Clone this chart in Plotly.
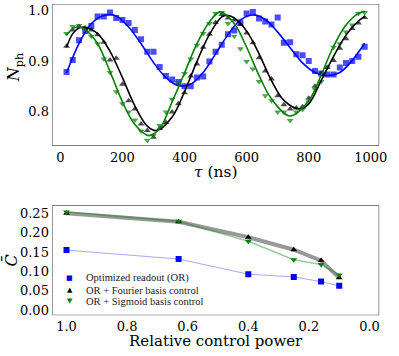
import plotly.graph_objects as go

# ---- top panel: photon number vs delay ----
tau = list(range(20, 1000, 20))

n_readout = [0.879, 0.903, 0.942, 0.960, 0.970, 0.989, 0.989, 0.997, 0.986, 0.982,
             0.976, 0.962, 0.944, 0.919, 0.919, 0.889, 0.871, 0.864, 0.859, 0.851,
             0.851, 0.868, 0.870, 0.900, 0.919, 0.933, 0.954, 0.961, 0.977, 0.995,
             0.998, 0.985, 0.979, 0.973, 0.987, 0.937, 0.938, 0.914, 0.912, 0.901,
             0.881, 0.876, 0.874, 0.874, 0.888, 0.897, 0.901, 0.909, 0.929]
n_fourier = [0.930, 0.962, 0.969, 0.966, 0.962, 0.953, 0.938, 0.903, 0.906, 0.855,
             0.822, 0.806, 0.776, 0.763, 0.750, 0.767, 0.779, 0.800, 0.816, 0.838,
             0.871, 0.895, 0.928, 0.954, 0.977, 0.993, 0.986, 0.982, 0.973, 0.956,
             0.937, 0.907, 0.881, 0.865, 0.832, 0.814, 0.806, 0.808, 0.810, 0.827,
             0.851, 0.876, 0.888, 0.902, 0.926, 0.945, 0.965, 0.976, 0.987]
n_sigmoid = [0.955, 0.969, 0.971, 0.966, 0.950, 0.935, 0.905, 0.878, 0.840, 0.816,
             0.800, 0.784, 0.762, 0.744, 0.754, 0.773, 0.800, 0.825, 0.858, 0.876,
             0.905, 0.932, 0.955, 0.975, 0.995, 0.997, 0.975, 0.950, 0.925, 0.900,
             0.885, 0.860, 0.832, 0.822, 0.800, 0.800, 0.783, 0.800, 0.805, 0.820,
             0.845, 0.860, 0.889, 0.928, 0.935, 0.958, 0.972, 0.995, 0.997]

# fitted curves (key points)
fit_tau_b = [20, 60, 100, 140, 180, 220, 260, 300, 340, 380, 420, 460, 500, 540,
             580, 620, 660, 700, 740, 780, 820, 860, 900, 940, 980]
fit_b = [0.877, 0.935, 0.975, 0.991, 0.990, 0.968, 0.935, 0.898, 0.868, 0.852,
         0.855, 0.878, 0.915, 0.953, 0.982, 0.992, 0.983, 0.958, 0.927, 0.897,
         0.878, 0.872, 0.878, 0.902, 0.936]
fit_tau_k = [20, 40, 60, 80, 120, 160, 200, 240, 280, 310, 360, 400, 440, 480,
             520, 540, 560, 600, 640, 680, 720, 770, 800, 840, 880, 920, 960, 980]
fit_k = [0.928, 0.955, 0.966, 0.967, 0.955, 0.920, 0.868, 0.812, 0.772, 0.763,
         0.790, 0.840, 0.900, 0.953, 0.988, 0.991, 0.986, 0.960, 0.915, 0.862,
         0.823, 0.806, 0.816, 0.862, 0.910, 0.952, 0.980, 0.989]
fit_tau_g = [20, 40, 60, 80, 120, 160, 200, 240, 285, 320, 360, 400, 440, 480,
             515, 560, 600, 640, 680, 740, 800, 840, 880, 920, 960, 980]
fit_g = [0.952, 0.965, 0.968, 0.963, 0.935, 0.880, 0.820, 0.775, 0.753, 0.767,
         0.820, 0.877, 0.935, 0.978, 0.998, 0.975, 0.928, 0.872, 0.826, 0.792,
         0.822, 0.873, 0.930, 0.972, 0.995, 0.999]

# ---- bottom panel: cost vs relative control power ----
power = [1.0, 0.63, 0.4, 0.25, 0.16, 0.1]
c_readout = [0.155, 0.132, 0.093, 0.086, 0.074, 0.063]
c_fourier = [0.250, 0.228, 0.188, 0.156, 0.128, 0.084]
c_sigmoid = [0.253, 0.229, 0.178, 0.130, 0.118, 0.091]

legend_names = ["Optimized readout (OR)", "OR + Fourier basis control",
                "OR + Sigmoid basis control"]

# axis ranges and ticks
top_xrange = [-27, 1027]
top_yrange = [0.733, 1.0137]
top_xticks = [0, 200, 400, 600, 800, 1000]
top_yticks = [0.8, 0.9, 1.0]
bot_xrange = [1.048, -0.032]
bot_yrange = [-0.0128, 0.2704]
bot_xticks = [1.0, 0.8, 0.6, 0.4, 0.2, 0.0]
bot_yticks = [0, 0.05, 0.10, 0.15, 0.20, 0.25]

BLUE = "#0000ff"
GREEN = "#008000"
SERIF = "DejaVu Serif"
W, H = 399, 356
PX_X = 387 - 53           # plot width in px (both panels)
PX_Y_TOP = 147 - 4        # top panel height in px
PX_Y_BOT = 318 - 207      # bottom panel height in px

fig = go.Figure()

# top: data points
for y, sym, col in [(n_readout, "square", "rgba(0,0,255,0.7)"),
                    (n_fourier, "triangle-up", "rgba(0,0,0,0.7)"),
                    (n_sigmoid, "triangle-down", "rgba(0,128,0,0.7)")]:
    fig.add_trace(go.Scatter(x=tau, y=y, mode="markers", xaxis="x", yaxis="y",
                             marker=dict(symbol=sym, size=6, color=col),
                             showlegend=False))

# top: fits
for x, y, col in [(fit_tau_b, fit_b, BLUE), (fit_tau_k, fit_k, "black"),
                  (fit_tau_g, fit_g, GREEN)]:
    fig.add_trace(go.Scatter(x=x, y=y, mode="lines", xaxis="x", yaxis="y",
                             line=dict(color=col, width=1.6, shape="spline"),
                             showlegend=False))

# bottom: connecting lines
fig.add_trace(go.Scatter(x=power, y=c_readout, mode="lines", xaxis="x2", yaxis="y2",
                         line=dict(color="rgba(0,0,255,0.35)", width=1),
                         showlegend=False))
fig.add_trace(go.Scatter(x=power, y=c_fourier, mode="lines", xaxis="x2", yaxis="y2",
                         line=dict(color="rgba(0,0,0,0.4)", width=4),
                         showlegend=False))
fig.add_trace(go.Scatter(x=power, y=c_sigmoid, mode="lines", xaxis="x2", yaxis="y2",
                         line=dict(color="rgba(0,128,0,0.4)", width=1.6),
                         showlegend=False))

# bottom: markers
for y, sym, col in [(c_readout, "square", BLUE),
                    (c_fourier, "triangle-up", "black"),
                    (c_sigmoid, "triangle-down", GREEN)]:
    fig.add_trace(go.Scatter(x=power, y=y, mode="markers", xaxis="x2", yaxis="y2",
                             marker=dict(symbol=sym, size=6, color=col),
                             showlegend=False))


def add_frame(xa, ya, xr, yr, xticks, yticks, px_h):
    """Box round a panel plus outward tick marks, drawn as unclipped traces."""
    fig.add_trace(go.Scatter(
        x=[xr[0], xr[1], xr[1], xr[0], xr[0]], y=[yr[0], yr[0], yr[1], yr[1], yr[0]],
        mode="lines", xaxis=xa, yaxis=ya, cliponaxis=False, hoverinfo="skip",
        line=dict(color="#555555", width=1.3), showlegend=False))
    dx = (xr[1] - xr[0]) / PX_X
    dy = (yr[1] - yr[0]) / px_h
    fig.add_trace(go.Scatter(
        x=xticks, y=[yr[0] - 2 * dy] * len(xticks), mode="markers",
        xaxis=xa, yaxis=ya, cliponaxis=False, hoverinfo="skip", showlegend=False,
        marker=dict(symbol="line-ns-open", size=4, line=dict(color="#333333", width=1))))
    fig.add_trace(go.Scatter(
        x=[xr[0] - 2 * dx] * len(yticks), y=yticks, mode="markers",
        xaxis=xa, yaxis=ya, cliponaxis=False, hoverinfo="skip", showlegend=False,
        marker=dict(symbol="line-ew-open", size=4, line=dict(color="#333333", width=1))))


add_frame("x", "y", top_xrange, top_yrange, top_xticks, top_yticks, PX_Y_TOP)
add_frame("x2", "y2", bot_xrange, bot_yrange, bot_xticks, bot_yticks, PX_Y_BOT)

# compact legend drawn with annotations (glyph + label)
legend_y = [280, 292.5, 304]
for gy, glyph, col, name in zip(legend_y, ["■", "▲", "▼"], [BLUE, "black", GREEN],
                                legend_names):
    fig.add_annotation(x=71 / W, y=1 - gy / H, xref="paper", yref="paper", text=glyph,
                       showarrow=False, xanchor="center", yanchor="middle",
                       font=dict(family="DejaVu Sans", size=7, color=col))
    fig.add_annotation(x=86 / W, y=1 - gy / H, xref="paper", yref="paper", text=name,
                       showarrow=False, xanchor="left", yanchor="middle",
                       font=dict(family="Liberation Serif", size=10.5, color="#222"))

# axis titles
fig.add_annotation(x=220 / W, y=1 - 173 / H, xref="paper", yref="paper",
                   text="<i>τ</i> (ns)", showarrow=False,
                   xanchor="center", yanchor="middle",
                   font=dict(family=SERIF, size=15.5, color="black"))
fig.add_annotation(x=220 / W, y=0, xref="paper", yref="paper",
                   text="Relative control power", showarrow=False,
                   xanchor="center", yanchor="bottom", yshift=1,
                   font=dict(family=SERIF, size=15, color="black"))
fig.add_annotation(x=15 / W, y=1 - 68 / H, xref="paper", yref="paper",
                   text="<i>N</i><sub>ph</sub>", showarrow=False, textangle=-90,
                   xanchor="center", yanchor="middle",
                   font=dict(family=SERIF, size=16, color="black"))
fig.add_annotation(x=11 / W, y=1 - 263 / H, xref="paper", yref="paper",
                   text="<i>C̄</i>", showarrow=False, textangle=-90,
                   xanchor="center", yanchor="middle",
                   font=dict(family=SERIF, size=16, color="black"))

axis_common = dict(showline=False, ticks="", showgrid=False, zeroline=False,
                   ticklabelstandoff=2,
                   tickfont=dict(family=SERIF, size=13, color="black"))

fig.update_layout(
    width=W, height=H,
    margin=dict(l=0, r=0, t=0, b=0),
    paper_bgcolor="white", plot_bgcolor="white",
    showlegend=False,
    xaxis=dict(domain=[53 / W, 387 / W], anchor="y", range=top_xrange,
               tickvals=top_xticks, **axis_common),
    yaxis=dict(domain=[1 - 147 / H, 1 - 4 / H], anchor="x", range=top_yrange,
               tickvals=top_yticks, tickformat=".1f", **axis_common),
    xaxis2=dict(domain=[53 / W, 387 / W], anchor="y2", range=bot_xrange,
                tickvals=bot_xticks, tickformat=".1f", **axis_common),
    yaxis2=dict(domain=[1 - 318 / H, 1 - 207 / H], anchor="x2", range=bot_yrange,
                tickvals=bot_yticks, tickformat=".2f", **axis_common),
)

fig.write_html("out.html", config={"displayModeBar": False},
               post_script="document.body.style.margin='0';")
